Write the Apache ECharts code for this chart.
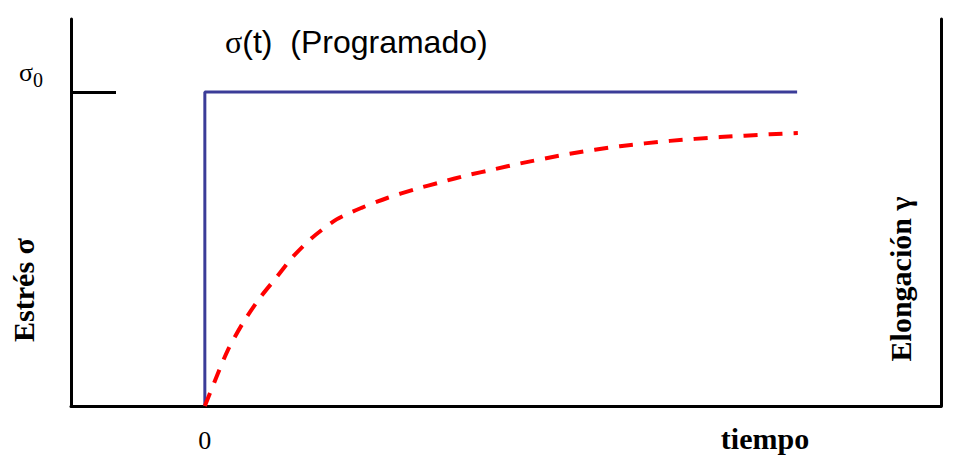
<!DOCTYPE html>
<html>
<head>
<meta charset="utf-8">
<script src="https://cdn.jsdelivr.net/npm/echarts@6/dist/echarts.min.js"></script>
<style>html,body{margin:0;padding:0;background:#fff}#c{width:960px;height:466px}</style>
</head>
<body>
<div id="c"></div>
<script>
// Data
var xTickLabels = ['0'];
var stressProgram = [[0, 0], [0, 1], [8.85, 1]];
var strainResponse = [
  [0, 0], [0.175, 0.093], [0.344, 0.178], [0.568, 0.264], [0.822, 0.344],
  [1.076, 0.411], [1.315, 0.475], [1.599, 0.535], [1.968, 0.594], [2.342, 0.631],
  [2.735, 0.663], [3.138, 0.690], [3.537, 0.713], [3.930, 0.735], [4.334, 0.754],
  [4.707, 0.772], [5.454, 0.803], [6.201, 0.827], [6.949, 0.844], [7.696, 0.856],
  [8.443, 0.865], [8.861, 0.869]
];
var sigmaLevel = 1;
var titleText = '(Programado)';
var xName = 'tiempo';
var yLeftName = 'Estrés σ';
var yRightName = 'Elongación γ';

var chart = echarts.init(document.getElementById('c'), null, {renderer: 'svg'});
var serif = '"Liberation Serif", "DejaVu Serif", serif';
var sans = '"Liberation Sans", Arial, sans-serif';
chart.setOption({
  animation: false,
  backgroundColor: '#fff',
  grid: {left: 71, right: 19, top: 19, bottom: 60, containLabel: false},
  xAxis: {
    type: 'value', min: -2, max: 11, interval: 1,
    axisLine: {show: true, lineStyle: {color: '#000', width: 3}},
    axisTick: {show: false},
    splitLine: {show: false},
    axisLabel: {
      margin: 21,
      fontFamily: serif, fontSize: 26, color: '#000',
      formatter: function (v) { return v === 0 ? xTickLabels[0] : ''; }
    }
  },
  yAxis: [{
    type: 'value', min: 0, max: 1.232, interval: 1,
    position: 'left',
    axisLine: {show: true, onZero: false, lineStyle: {color: '#000', width: 3}},
    axisTick: {show: true, inside: true, length: 45, customValues: [sigmaLevel], lineStyle: {color: '#000', width: 3}},
    splitLine: {show: false},
    axisLabel: {
      margin: 28, verticalAlign: 'bottom', padding: [0, 0, 6, 0],
      customValues: [sigmaLevel],
      formatter: function (v) { return '{s|σ}{b|0}'; },
      rich: {
        s: {fontFamily: serif, fontSize: 26, color: '#000'},
        b: {fontFamily: serif, fontSize: 20, color: '#000', verticalAlign: 'bottom', padding: [0, 0, -4, 0]}
      }
    }
  }, {
    type: 'value', min: 0, max: 1.232, interval: 1,
    position: 'right',
    axisLine: {show: true, onZero: false, lineStyle: {color: '#000', width: 3}},
    axisTick: {show: false},
    axisLabel: {show: false},
    splitLine: {show: false}
  }],
  series: [{
    type: 'line', data: stressProgram, symbol: 'none',
    lineStyle: {color: '#3b3c98', width: 3}
  }, {
    type: 'line', data: strainResponse, symbol: 'none', smooth: 0.25,
    lineStyle: {color: '#ff0000', width: 4, type: [14, 11]}
  }],
  graphic: [{
    type: 'text', x: 225, y: 42,
    style: {
      text: '{s|σ}{n|(t)  ' + titleText + '}',
      verticalAlign: 'middle', align: 'left',
      rich: {
        s: {fontFamily: serif, fontSize: 32, fill: '#000'},
        n: {fontFamily: sans, fontSize: 32, fill: '#000'}
      }
    }
  }, {
    type: 'text', x: 765, y: 438,
    style: {text: xName, fontFamily: serif, fontWeight: 'bold', fontSize: 30, fill: '#000', align: 'center', verticalAlign: 'middle'}
  }, {
    type: 'text', x: 23, y: 290, rotation: Math.PI / 2,
    style: {text: yLeftName, fontFamily: serif, fontWeight: 'bold', fontSize: 30, fill: '#000', align: 'center', verticalAlign: 'middle'}
  }, {
    type: 'text', x: 900, y: 279, rotation: Math.PI / 2,
    style: {text: yRightName, fontFamily: serif, fontWeight: 'bold', fontSize: 30, fill: '#000', align: 'center', verticalAlign: 'middle'}
  }]
});
</script>
</body>
</html>
